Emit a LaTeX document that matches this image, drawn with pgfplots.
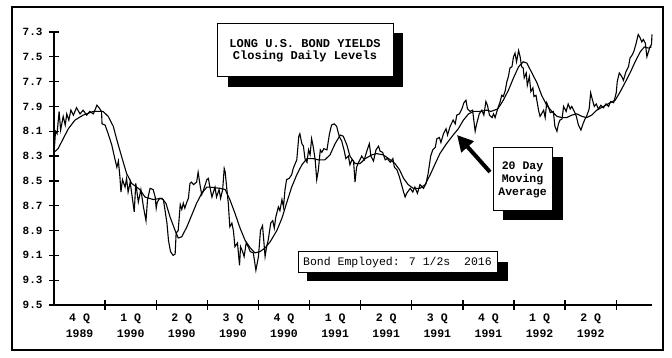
\documentclass[border=0pt]{standalone}
\usepackage{pgfplots}
\pgfplotsset{compat=1.18}
\usepackage{fontspec}
\setmainfont{Liberation Mono}
\usetikzlibrary{arrows.meta}

\pgfplotstableread{
q y
0.00 8.25
0.01 8.22
0.03 8.10
0.06 8.12
0.10 7.94
0.13 8.09
0.18 7.98
0.22 8.05
0.25 7.96
0.29 8.01
0.33 7.93
0.38 7.97
0.44 7.91
0.51 7.96
0.57 7.93
0.64 7.97
0.70 7.94
0.77 7.96
0.84 7.89
0.88 7.91
0.93 7.94
0.94 8.04
1.00 8.05
1.06 8.12
1.13 8.21
1.19 8.32
1.23 8.39
1.26 8.34
1.29 8.47
1.31 8.59
1.34 8.49
1.39 8.55
1.42 8.48
1.45 8.59
1.49 8.51
1.52 8.60
1.57 8.75
1.60 8.52
1.65 8.67
1.70 8.57
1.75 8.71
1.80 8.82
1.83 8.65
1.88 8.56
1.94 8.57
1.98 8.63
2.00 8.72
2.02 8.67
2.07 8.64
2.14 8.65
2.21 8.84
2.24 8.98
2.28 9.07
2.33 9.10
2.37 9.09
2.39 8.92
2.43 8.90
2.47 8.69
2.50 8.73
2.53 8.68
2.56 8.72
2.60 8.67
2.63 8.64
2.66 8.52
2.69 8.51
2.73 8.53
2.79 8.51
2.82 8.43
2.86 8.54
2.89 8.61
2.92 8.58
2.99 8.49
3.02 8.48
3.05 8.55
3.09 8.63
3.15 8.55
3.18 8.63
3.23 8.57
3.26 8.64
3.30 8.57
3.33 8.40
3.35 8.43
3.38 8.56
3.41 8.68
3.44 8.87
3.48 8.84
3.51 8.90
3.54 9.03
3.59 9.00
3.63 9.18
3.65 9.03
3.69 9.07
3.72 9.11
3.76 9.00
3.80 9.03
3.84 9.07
3.90 9.08
3.95 9.22
4.00 9.11
4.04 8.90
4.08 8.86
4.13 9.11
4.16 9.03
4.19 8.98
4.24 8.84
4.28 8.82
4.31 8.88
4.34 8.79
4.39 8.71
4.42 8.74
4.46 8.65
4.49 8.71
4.52 8.57
4.55 8.49
4.60 8.48
4.65 8.45
4.68 8.40
4.75 8.33
4.79 8.14
4.81 8.12
4.85 8.20
4.88 8.22
4.91 8.32
4.95 8.35
4.98 8.25
5.01 8.29
5.04 8.16
5.07 8.22
5.11 8.33
5.14 8.49
5.17 8.42
5.21 8.25
5.24 8.27
5.28 8.24
5.34 8.25
5.39 8.12
5.43 8.05
5.48 8.04
5.53 8.06
5.58 8.14
5.63 8.18
5.68 8.26
5.71 8.32
5.76 8.30
5.79 8.37
5.83 8.33
5.86 8.34
5.89 8.51
5.92 8.39
5.95 8.36
6.02 8.30
6.07 8.33
6.12 8.26
6.17 8.20
6.20 8.30
6.25 8.34
6.30 8.25
6.35 8.22
6.38 8.26
6.43 8.27
6.48 8.33
6.52 8.32
6.58 8.35
6.63 8.32
6.66 8.39
6.71 8.41
6.76 8.47
6.80 8.53
6.84 8.59
6.87 8.63
6.90 8.60
6.97 8.56
7.02 8.59
7.06 8.55
7.11 8.60
7.16 8.53
7.23 8.56
7.28 8.52
7.32 8.44
7.37 8.30
7.41 8.25
7.46 8.23
7.49 8.16
7.54 8.15
7.57 8.19
7.62 8.12
7.67 8.08
7.70 8.13
7.75 8.06
7.81 8.01
7.85 8.04
7.88 7.97
7.93 7.96
7.98 7.92
8.02 7.87
8.06 7.85
8.09 7.92
8.14 7.94
8.19 7.93
8.24 8.10
8.27 8.04
8.32 7.96
8.37 7.93
8.41 7.97
8.45 7.86
8.48 7.89
8.52 7.97
8.57 7.99
8.60 7.96
8.63 7.99
8.68 7.92
8.73 7.86
8.76 7.81
8.79 7.82
8.83 7.77
8.86 7.70
8.89 7.66
8.92 7.59
8.96 7.58
8.99 7.50
9.02 7.47
9.05 7.54
9.09 7.45
9.12 7.50
9.15 7.58
9.18 7.59
9.20 7.67
9.24 7.63
9.26 7.73
9.30 7.66
9.33 7.78
9.37 7.75
9.39 7.82
9.43 7.81
9.48 7.93
9.51 7.98
9.54 7.96
9.58 7.93
9.61 7.99
9.64 7.87
9.67 7.90
9.71 7.95
9.77 7.94
9.80 8.06
9.84 8.10
9.87 8.04
9.90 8.01
9.94 8.00
9.97 7.90
10.02 7.94
10.06 7.88
10.10 7.92
10.13 7.90
10.18 7.94
10.22 7.98
10.26 8.05
10.31 8.09
10.35 8.04
10.39 8.00
10.42 7.98
10.47 7.92
10.50 7.79
10.53 7.84
10.57 7.90
10.61 7.88
10.65 7.92
10.70 7.89
10.75 7.91
10.80 7.88
10.85 7.90
10.89 7.86
10.95 7.87
11.00 7.79
11.02 7.70
11.06 7.63
11.11 7.66
11.14 7.69
11.19 7.62
11.24 7.58
11.27 7.51
11.32 7.48
11.35 7.45
11.39 7.39
11.43 7.32
11.46 7.34
11.50 7.38
11.53 7.36
11.57 7.39
11.60 7.50
11.63 7.46
11.66 7.42
11.69 7.40
11.70 7.32
}\daily

\pgfplotstableread{
q y
0.00 8.27
0.08 8.24
0.18 8.16
0.28 8.08
0.41 8.01
0.57 7.97
0.77 7.94
0.96 7.94
1.06 7.98
1.16 8.06
1.23 8.17
1.32 8.30
1.42 8.44
1.52 8.52
1.68 8.57
1.78 8.63
1.94 8.65
2.11 8.64
2.19 8.68
2.27 8.79
2.37 8.90
2.43 8.96
2.50 8.95
2.60 8.87
2.69 8.78
2.79 8.68
2.89 8.60
2.99 8.55
3.05 8.55
3.25 8.56
3.35 8.57
3.44 8.65
3.54 8.76
3.64 8.88
3.74 8.98
3.84 9.04
3.93 9.08
4.03 9.07
4.13 9.04
4.23 8.99
4.36 8.90
4.46 8.80
4.55 8.68
4.65 8.55
4.75 8.45
4.85 8.37
4.95 8.32
5.07 8.32
5.17 8.33
5.30 8.33
5.40 8.29
5.50 8.20
5.60 8.13
5.66 8.14
5.73 8.21
5.79 8.30
5.89 8.36
5.99 8.36
6.09 8.32
6.22 8.29
6.31 8.28
6.44 8.29
6.58 8.33
6.67 8.36
6.76 8.41
6.84 8.48
6.93 8.53
7.03 8.56
7.16 8.56
7.26 8.53
7.36 8.45
7.46 8.36
7.55 8.28
7.68 8.20
7.81 8.13
7.91 8.08
8.01 8.01
8.11 7.96
8.21 7.94
8.34 7.94
8.47 7.93
8.55 7.94
8.68 7.92
8.73 7.89
8.79 7.85
8.89 7.77
8.99 7.67
9.09 7.58
9.18 7.54
9.25 7.55
9.35 7.63
9.45 7.71
9.54 7.81
9.64 7.89
9.74 7.94
9.84 7.98
9.94 7.99
10.03 7.99
10.13 7.97
10.23 7.96
10.33 7.98
10.42 7.99
10.52 7.97
10.62 7.93
10.75 7.90
10.88 7.87
10.98 7.85
11.08 7.78
11.17 7.71
11.27 7.63
11.37 7.54
11.47 7.46
11.55 7.42
11.63 7.43
11.69 7.42
}\mavg

\begin{document}
\begin{tikzpicture}[x=1pt,y=1pt]
\path[use as bounding box] (0,0) rectangle (672,358);
\draw[line width=2pt] (12,8) rectangle (663,351);
\begin{axis}[
  at={(54pt,53pt)}, anchor=south west,
  scale only axis, width=598pt, height=273pt,
  xmin=0, xmax=11.7, ymin=7.3, ymax=9.5, y dir=reverse,
  axis x line=bottom, axis y line=left,
  axis line style={line width=1.3pt,-},
  x axis line style={-}, y axis line style={-},
  tick align=center,
  major tick length=10pt,
  every tick/.style={black, line width=1.3pt},
  xtick={1,2,3,4,5,6,7,8,9,10,11},
  xticklabels={},
  ytick={7.3,7.5,7.7,7.9,8.1,8.3,8.5,8.7,8.9,9.1,9.3,9.5},
  yticklabels={7.3,7.5,7.7,7.9,8.1,8.3,8.5,8.7,8.9,9.1,9.3,9.5},
  yticklabel style={font=\bfseries\fontsize{11}{11}\selectfont, anchor=east, xshift=-3pt},
  extra x ticks={0.5,1.5,2.5,3.5,4.5,5.5,6.5,7.5,8.5,9.5,10.5},
  extra x tick labels={{4 Q\\1989},{1 Q\\1990},{2 Q\\1990},{3 Q\\1990},{4 Q\\1990},{1 Q\\1991},{2 Q\\1991},{3 Q\\1991},{4 Q\\1991},{1 Q\\1992},{2 Q\\1992}},
  extra x tick style={major tick length=0pt, xticklabel style={align=center, yshift=-5pt, font=\bfseries\fontsize{11.5}{16}\selectfont}},
  clip=false,
]
\addplot[black, line width=1.1pt] table[x=q,y=y] {\daily};
\addplot[black, line width=1.1pt] table[x=q,y=y] {\mavg};
\end{axis}
% title box
\fill[black] (228,271) rectangle (403,325);
\draw[fill=white, line width=1pt] (217,281) rectangle (393,334);
\node[align=center, font=\bfseries\fontsize{12}{12}\selectfont] at (305,307.5) {LONG U.S. BOND YIELDS\\Closing Daily Levels};
% moving average box
\draw[line width=4pt, -{Triangle[length=16pt,width=16pt]}] (490,186) -- (457,223);
\fill[black] (503,138) rectangle (563,201);
\draw[fill=white, line width=1pt] (493,147) rectangle (552,210);
\node[align=center, font=\bfseries\fontsize{11.5}{13}\selectfont] at (522.5,178.5) {20 Day\\Moving\\Average};
% bond box
\fill[black] (307,77) rectangle (508,96);
\draw[fill=white, line width=1pt] (298,85) rectangle (497,106);
\node[font=\fontsize{11.5}{12}\selectfont] at (397.5,95.5) {Bond Employed: 7 1/2s\ \ 2016};
\end{tikzpicture}
\end{document}
